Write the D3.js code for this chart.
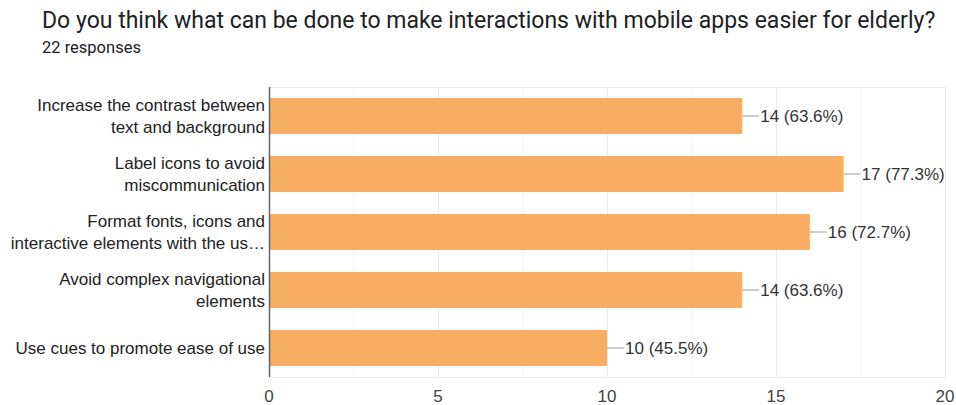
<!DOCTYPE html>
<html>
<head>
<meta charset="utf-8">
<script src="https://cdn.jsdelivr.net/npm/d3@7"></script>
<style>
  body { margin: 0; background: #fff; }
  svg { display: block; }
</style>
</head>
<body>
<svg class="chart"></svg>
<script>
var categories = [
  ["Increase the contrast between", "text and background"],
  ["Label icons to avoid", "miscommunication"],
  ["Format fonts, icons and", "interactive elements with the us\u2026"],
  ["Avoid complex navigational", "elements"],
  ["Use cues to promote ease of use"]
];
var counts = [14, 17, 16, 14, 10];
var percents = ["63.6%", "77.3%", "72.7%", "63.6%", "45.5%"];
var xTicks = [0, 5, 10, 15, 20];
var title = "Do you think what can be done to make interactions with mobile apps easier for elderly?";
var subtitle = "22 responses";

var width = 956, height = 405;
var margin = {top: 87, right: 11, bottom: 28, left: 269};
var chartWidth = width - margin.left - margin.right;
var chartHeight = height - margin.top - margin.bottom;
var labelFont = "Arial, 'Liberation Sans', sans-serif";

var svg = d3.select('.chart').attr("width", width).attr("height", height);

svg.append("text")
  .attr("x", 42).attr("y", 28)
  .style("font-family", "Roboto, sans-serif")
  .style("font-size", "23px")
  .style("fill", "#202124")
  .text(title);

svg.append("text")
  .attr("x", 42).attr("y", 53)
  .style("font-family", "Roboto, sans-serif")
  .style("font-size", "16.5px")
  .style("fill", "#202124")
  .text(subtitle);

var chart = svg.append("g").attr("transform", "translate(" + margin.left + "," + margin.top + ")");

var x = d3.scaleLinear().domain([0, 20]).range([0, chartWidth]);
var y = d3.scaleBand().domain(d3.range(categories.length)).range([0, chartHeight]).paddingInner(0.38).paddingOuter(0.19);

// gridlines every 2.5
chart.selectAll(".grid")
  .data(d3.range(0, 20.01, 2.5))
  .enter().append("line")
  .attr("x1", function(d) { return x(d) + 0.5; })
  .attr("x2", function(d) { return x(d) + 0.5; })
  .attr("y1", 0).attr("y2", chartHeight)
  .style("stroke", function(d) { return d % 5 === 0 ? "#ebebeb" : "#f3f3f3"; });

chart.append("rect")
  .attr("x", 0.5).attr("y", 0.5)
  .attr("width", chartWidth).attr("height", chartHeight)
  .style("fill", "none").style("stroke", "#ebebeb");

// bars
chart.selectAll(".bar")
  .data(counts)
  .enter().append("rect")
  .attr("x", 0)
  .attr("y", function(d, i) { return y(i); })
  .attr("width", function(d) { return x(d); })
  .attr("height", y.bandwidth())
  .style("fill", "#f7ad62");

// leader lines + value labels
chart.selectAll(".lead")
  .data(counts)
  .enter().append("line")
  .attr("x1", function(d) { return x(d); })
  .attr("x2", function(d) { return x(d) + 17; })
  .attr("y1", function(d, i) { return y(i) + y.bandwidth() / 2; })
  .attr("y2", function(d, i) { return y(i) + y.bandwidth() / 2; })
  .style("stroke", "#999").style("stroke-width", 1);

chart.selectAll(".val")
  .data(counts)
  .enter().append("text")
  .attr("x", function(d) { return x(d) + 18; })
  .attr("y", function(d, i) { return y(i) + y.bandwidth() / 2; })
  .attr("dy", "0.35em")
  .style("font-family", labelFont)
  .style("font-size", "17px")
  .style("fill", "#333")
  .text(function(d, i) { return d + " (" + percents[i] + ")"; });

// left axis line
chart.append("line")
  .attr("x1", 0.5).attr("x2", 0.5)
  .attr("y1", 0).attr("y2", chartHeight)
  .style("stroke", "#666").style("stroke-width", 1.5);

// category labels
var lab = chart.selectAll(".cat")
  .data(categories)
  .enter().append("text")
  .attr("text-anchor", "end")
  .attr("transform", function(d, i) { return "translate(-4," + (y(i) + y.bandwidth() / 2) + ")"; })
  .style("font-family", labelFont)
  .style("font-size", "17px")
  .style("fill", "#222");

lab.selectAll("tspan")
  .data(function(d) { return d.map(function(t, j) { return {t: t, j: j, n: d.length}; }); })
  .enter().append("tspan")
  .attr("x", 0)
  .attr("y", function(d) { return (d.j - (d.n - 1) / 2) * 22; })
  .attr("dy", "0.35em")
  .text(function(d) { return d.t; });

// x axis tick labels
chart.selectAll(".tick")
  .data(xTicks)
  .enter().append("text")
  .attr("x", function(d) { return x(d); })
  .attr("y", chartHeight + 25)
  .attr("text-anchor", "middle")
  .style("font-family", labelFont)
  .style("font-size", "17px")
  .style("fill", "#444")
  .text(function(d) { return d; });
</script>
</body>
</html>
